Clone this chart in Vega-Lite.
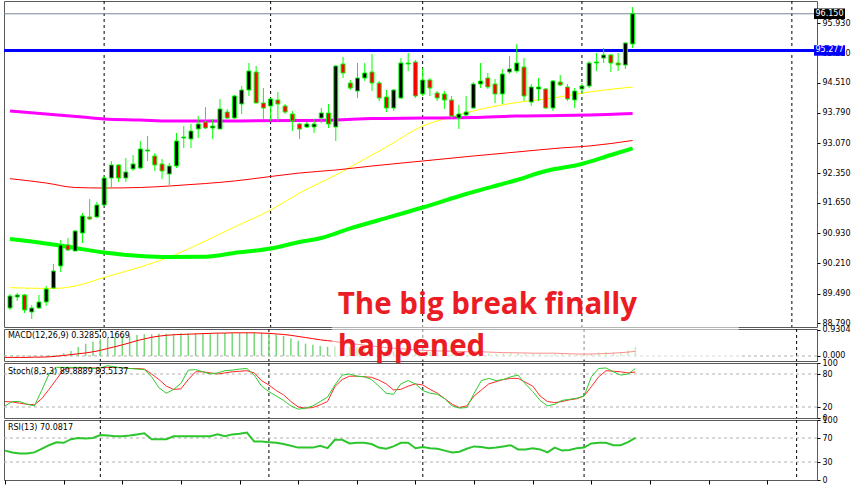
{
"$schema":"https://vega.github.io/schema/vega-lite/v6.json",
"background":"white",
"padding":{"left":0,"top":0,"right":0,"bottom":0},
"spacing":2,
"bounds":"flush",
"config":{"view":{"stroke":"#5a5a5a","strokeWidth":1},"axis":{"labelFont":"DejaVu Sans","labelFontSize":8,"labelColor":"#000000","tickColor":"#000000","tickSize":3,"labelPadding":2,"grid":false,"domain":false}},
"datasets":{
"seps":[{"i":13},{"i":36},{"i":57},{"i":79},{"i":108}],
"levels":[{"p":96.15,"t":"96.150"},{"p":95.277,"t":"95.277"}],
"note":[{"t":"The big break finally","v":1.503},{"t":"happened","v":0}],
"ma":[
{"ma":"m","i":0,"v":93.836},{"ma":"m","i":5,"v":93.765},{"ma":"m","i":10,"v":93.693},{"ma":"m","i":13,"v":93.646},{"ma":"m","i":18,"v":93.622},{"ma":"m","i":22,"v":93.598},{"ma":"m","i":30,"v":93.598},{"ma":"m","i":40,"v":93.61},{"ma":"m","i":45,"v":93.622},{"ma":"m","i":50,"v":93.657},{"ma":"m","i":57,"v":93.669},{"ma":"m","i":64,"v":93.681},{"ma":"m","i":70,"v":93.717},{"ma":"m","i":76,"v":93.729},{"ma":"m","i":80,"v":93.741},{"ma":"m","i":86,"v":93.777},
{"ma":"r","i":0,"v":92.225},{"ma":"r","i":5,"v":92.122},{"ma":"r","i":9,"v":92.015},{"ma":"r","i":13,"v":92.003},{"ma":"r","i":18,"v":92.015},{"ma":"r","i":22,"v":92.051},{"ma":"r","i":27,"v":92.11},{"ma":"r","i":31,"v":92.17},{"ma":"r","i":36,"v":92.277},{"ma":"r","i":40,"v":92.36},{"ma":"r","i":45,"v":92.432},{"ma":"r","i":50,"v":92.527},{"ma":"r","i":57,"v":92.646},{"ma":"r","i":64,"v":92.765},{"ma":"r","i":70,"v":92.86},{"ma":"r","i":76,"v":92.955},{"ma":"r","i":80,"v":93.003},{"ma":"r","i":86,"v":93.134},
{"ma":"y","i":0,"v":89.631},{"ma":"y","i":6,"v":89.612},{"ma":"y","i":9,"v":89.671},{"ma":"y","i":13,"v":89.874},{"ma":"y","i":18,"v":90.123},{"ma":"y","i":22,"v":90.361},{"ma":"y","i":27,"v":90.742},{"ma":"y","i":31,"v":91.075},{"ma":"y","i":36,"v":91.48},{"ma":"y","i":40,"v":91.884},{"ma":"y","i":45,"v":92.313},{"ma":"y","i":48,"v":92.598},{"ma":"y","i":52,"v":92.979},{"ma":"y","i":57,"v":93.479},{"ma":"y","i":61,"v":93.693},{"ma":"y","i":64,"v":93.836},{"ma":"y","i":70,"v":94.038},{"ma":"y","i":75,"v":94.145},{"ma":"y","i":80,"v":94.288},{"ma":"y","i":86,"v":94.407},
{"ma":"g","i":0,"v":90.79},{"ma":"g","i":4,"v":90.706},{"ma":"g","i":9,"v":90.575},{"ma":"g","i":13,"v":90.468},{"ma":"g","i":18,"v":90.385},{"ma":"g","i":22,"v":90.361},{"ma":"g","i":27,"v":90.368},{"ma":"g","i":31,"v":90.456},{"ma":"g","i":36,"v":90.563},{"ma":"g","i":40,"v":90.718},{"ma":"g","i":43,"v":90.813},{"ma":"g","i":47,"v":91.044},{"ma":"g","i":51,"v":91.242},{"ma":"g","i":57,"v":91.539},{"ma":"g","i":63,"v":91.861},{"ma":"g","i":70,"v":92.194},{"ma":"g","i":74,"v":92.408},{"ma":"g","i":79,"v":92.575},{"ma":"g","i":83,"v":92.789},{"ma":"g","i":86,"v":92.948}
],
"bars":[
{"i":0,"o":89.147,"h":89.481,"l":89.1,"c":89.433,"m":0.03,"s":-0.05,"k":22,"d":30,"r":49},
{"i":1,"o":89.409,"h":89.504,"l":89.314,"c":89.457,"m":0.03,"s":-0.05,"k":30,"d":29,"r":46},
{"i":2,"o":89.457,"h":89.481,"l":89.028,"c":89.1,"m":0.02,"s":-0.05,"k":30,"d":27,"r":44},
{"i":3,"o":89.052,"h":89.219,"l":88.886,"c":89.147,"m":0.02,"s":-0.05,"k":25,"d":25,"r":44},
{"i":4,"o":89.147,"h":89.457,"l":89.124,"c":89.29,"m":0.02,"s":-0.04,"k":22,"d":24,"r":46},
{"i":5,"o":89.29,"h":89.671,"l":89.195,"c":89.6,"m":0.03,"s":-0.04,"k":50,"d":35,"r":52},
{"i":6,"o":89.623,"h":90.195,"l":89.6,"c":90.028,"m":0.03,"s":-0.03,"k":80,"d":52,"r":58},
{"i":7,"o":90.147,"h":90.766,"l":90.004,"c":90.647,"m":0.04,"s":-0.01,"k":92,"d":70,"r":63},
{"i":8,"o":90.647,"h":90.813,"l":90.504,"c":90.528,"m":0.1,"s":0.02,"k":92,"d":88,"r":62},
{"i":9,"o":90.504,"h":91.004,"l":90.504,"c":90.98,"m":0.18,"s":0.05,"k":92,"d":91,"r":68},
{"i":10,"o":90.932,"h":91.408,"l":90.694,"c":91.337,"m":0.32,"s":0.08,"k":92,"d":91,"r":70},
{"i":11,"o":91.313,"h":91.742,"l":91.242,"c":91.266,"m":0.44,"s":0.11,"k":92,"d":91,"r":69},
{"i":12,"o":91.313,"h":91.67,"l":91.289,"c":91.599,"m":0.51,"s":0.15,"k":90,"d":91,"r":70},
{"i":13,"o":91.599,"h":92.289,"l":91.575,"c":92.241,"m":0.6,"s":0.2,"k":91,"d":91,"r":75},
{"i":14,"o":92.241,"h":92.646,"l":92.003,"c":92.551,"m":0.66,"s":0.27,"k":95,"d":92,"r":74},
{"i":15,"o":92.551,"h":92.575,"l":92.146,"c":92.241,"m":0.68,"s":0.33,"k":93,"d":92,"r":73},
{"i":16,"o":92.241,"h":92.717,"l":92.146,"c":92.384,"m":0.72,"s":0.4,"k":91,"d":91,"r":73},
{"i":17,"o":92.456,"h":92.789,"l":92.408,"c":92.575,"m":0.72,"s":0.47,"k":90,"d":90,"r":74},
{"i":18,"o":92.479,"h":93.122,"l":92.456,"c":92.932,"m":0.75,"s":0.55,"k":89,"d":90,"r":76},
{"i":19,"o":92.884,"h":93.241,"l":92.646,"c":92.908,"m":0.78,"s":0.61,"k":88,"d":89,"r":78},
{"i":20,"o":92.765,"h":92.836,"l":92.408,"c":92.551,"m":0.78,"s":0.67,"k":75,"d":80,"r":68},
{"i":21,"o":92.575,"h":92.694,"l":92.218,"c":92.408,"m":0.8,"s":0.71,"k":55,"d":70,"r":68},
{"i":22,"o":92.337,"h":92.598,"l":92.075,"c":92.527,"m":0.8,"s":0.74,"k":45,"d":58,"r":68},
{"i":23,"o":92.527,"h":93.312,"l":92.479,"c":93.122,"m":0.8,"s":0.76,"k":52,"d":52,"r":73},
{"i":24,"o":93.193,"h":93.479,"l":92.955,"c":93.217,"m":0.81,"s":0.77,"k":63,"d":53,"r":73},
{"i":25,"o":93.17,"h":93.527,"l":92.955,"c":93.36,"m":0.81,"s":0.78,"k":87,"d":70,"r":73},
{"i":26,"o":93.408,"h":93.717,"l":93.193,"c":93.527,"m":0.81,"s":0.79,"k":88,"d":84,"r":73},
{"i":27,"o":93.574,"h":93.931,"l":93.408,"c":93.431,"m":0.82,"s":0.8,"k":84,"d":84,"r":73},
{"i":28,"o":93.431,"h":93.646,"l":93.17,"c":93.479,"m":0.82,"s":0.81,"k":80,"d":82,"r":73},
{"i":29,"o":93.408,"h":94.122,"l":93.408,"c":93.884,"m":0.82,"s":0.82,"k":82,"d":80,"r":76},
{"i":30,"o":93.812,"h":93.884,"l":93.646,"c":93.669,"m":0.82,"s":0.82,"k":86,"d":82,"r":73},
{"i":31,"o":93.669,"h":94.217,"l":93.646,"c":94.193,"m":0.83,"s":0.83,"k":87,"d":84,"r":76},
{"i":32,"o":94.003,"h":94.431,"l":93.765,"c":94.336,"m":0.83,"s":0.83,"k":89,"d":85,"r":77},
{"i":33,"o":94.336,"h":94.978,"l":94.193,"c":94.788,"m":0.84,"s":0.83,"k":90,"d":86,"r":79},
{"i":34,"o":94.764,"h":94.907,"l":94.026,"c":94.026,"m":0.84,"s":0.83,"k":78,"d":82,"r":64},
{"i":35,"o":94.026,"h":94.383,"l":93.646,"c":93.907,"m":0.83,"s":0.82,"k":58,"d":68,"r":64},
{"i":36,"o":93.955,"h":94.145,"l":93.598,"c":94.122,"m":0.82,"s":0.81,"k":48,"d":60,"r":63},
{"i":37,"o":94.098,"h":94.288,"l":93.598,"c":94.003,"m":0.78,"s":0.79,"k":40,"d":50,"r":62},
{"i":38,"o":93.955,"h":94.003,"l":93.765,"c":93.812,"m":0.72,"s":0.77,"k":32,"d":42,"r":60},
{"i":39,"o":93.765,"h":93.836,"l":93.36,"c":93.598,"m":0.63,"s":0.74,"k":22,"d":30,"r":57},
{"i":40,"o":93.527,"h":93.55,"l":93.17,"c":93.408,"m":0.54,"s":0.7,"k":16,"d":20,"r":54},
{"i":41,"o":93.455,"h":93.574,"l":93.431,"c":93.527,"m":0.44,"s":0.66,"k":18,"d":18,"r":54},
{"i":42,"o":93.455,"h":93.646,"l":93.312,"c":93.527,"m":0.4,"s":0.62,"k":22,"d":19,"r":54},
{"i":43,"o":93.669,"h":93.907,"l":93.55,"c":93.788,"m":0.36,"s":0.58,"k":30,"d":24,"r":57},
{"i":44,"o":93.788,"h":94.003,"l":93.431,"c":93.527,"m":0.33,"s":0.55,"k":38,"d":30,"r":53},
{"i":45,"o":93.455,"h":94.931,"l":93.122,"c":94.907,"m":0.35,"s":0.52,"k":60,"d":57,"r":67},
{"i":46,"o":94.955,"h":95.121,"l":94.621,"c":94.74,"m":0.36,"s":0.48,"k":78,"d":70,"r":67},
{"i":47,"o":94.502,"h":94.574,"l":94.336,"c":94.383,"m":0.33,"s":0.45,"k":80,"d":76,"r":61},
{"i":48,"o":94.312,"h":94.978,"l":94.145,"c":94.621,"m":0.32,"s":0.42,"k":76,"d":76,"r":62},
{"i":49,"o":94.621,"h":94.978,"l":94.55,"c":94.74,"m":0.3,"s":0.39,"k":75,"d":75,"r":62},
{"i":50,"o":94.764,"h":95.193,"l":94.312,"c":94.502,"m":0.28,"s":0.36,"k":70,"d":74,"r":60},
{"i":51,"o":94.502,"h":94.55,"l":94.074,"c":94.145,"m":0.23,"s":0.33,"k":58,"d":69,"r":54},
{"i":52,"o":94.169,"h":94.336,"l":93.812,"c":93.907,"m":0.18,"s":0.3,"k":45,"d":62,"r":52},
{"i":53,"o":93.907,"h":94.36,"l":93.836,"c":94.336,"m":0.17,"s":0.28,"k":43,"d":51,"r":56},
{"i":54,"o":94.145,"h":95.097,"l":94.122,"c":94.978,"m":0.2,"s":0.26,"k":62,"d":52,"r":62},
{"i":55,"o":94.955,"h":95.216,"l":94.788,"c":94.978,"m":0.21,"s":0.24,"k":68,"d":58,"r":62},
{"i":56,"o":95.002,"h":95.05,"l":94.145,"c":94.193,"m":0.17,"s":0.22,"k":62,"d":62,"r":53},
{"i":57,"o":94.241,"h":94.859,"l":94.193,"c":94.574,"m":0.15,"s":0.2,"k":50,"d":60,"r":55},
{"i":58,"o":94.574,"h":94.621,"l":94.193,"c":94.383,"m":0.13,"s":0.19,"k":45,"d":52,"r":53},
{"i":59,"o":94.264,"h":94.312,"l":94.074,"c":94.145,"m":0.11,"s":0.18,"k":43,"d":45,"r":52},
{"i":60,"o":94.241,"h":94.312,"l":93.884,"c":94.098,"m":0.09,"s":0.18,"k":35,"d":35,"r":49},
{"i":61,"o":94.098,"h":94.193,"l":93.646,"c":93.717,"m":0.05,"s":0.17,"k":22,"d":25,"r":46},
{"i":62,"o":93.669,"h":93.979,"l":93.408,"c":93.765,"m":0.03,"s":0.16,"k":18,"d":19,"r":47},
{"i":63,"o":93.741,"h":94.193,"l":93.717,"c":93.812,"m":0.03,"s":0.15,"k":19,"d":22,"r":52},
{"i":64,"o":93.907,"h":94.526,"l":93.884,"c":94.479,"m":0.06,"s":0.15,"k":45,"d":40,"r":56},
{"i":65,"o":94.479,"h":94.978,"l":94.383,"c":94.55,"m":0.08,"s":0.15,"k":68,"d":51,"r":55},
{"i":66,"o":94.621,"h":94.74,"l":94.36,"c":94.407,"m":0.09,"s":0.14,"k":72,"d":62,"r":53},
{"i":67,"o":94.479,"h":94.598,"l":94.026,"c":94.241,"m":0.08,"s":0.13,"k":68,"d":66,"r":54},
{"i":68,"o":94.241,"h":94.836,"l":94.003,"c":94.717,"m":0.1,"s":0.12,"k":70,"d":70,"r":56},
{"i":69,"o":94.764,"h":95.145,"l":94.717,"c":94.836,"m":0.12,"s":0.12,"k":75,"d":72,"r":58},
{"i":70,"o":94.788,"h":95.431,"l":94.74,"c":94.978,"m":0.14,"s":0.11,"k":78,"d":72,"r":51},
{"i":71,"o":94.883,"h":95.097,"l":94.074,"c":94.193,"m":0.1,"s":0.11,"k":62,"d":65,"r":51},
{"i":72,"o":94.05,"h":94.479,"l":93.955,"c":94.407,"m":0.09,"s":0.1,"k":48,"d":58,"r":53},
{"i":73,"o":94.36,"h":94.621,"l":94.074,"c":94.407,"m":0.08,"s":0.1,"k":32,"d":40,"r":51},
{"i":74,"o":94.36,"h":94.383,"l":93.884,"c":93.907,"m":0.05,"s":0.1,"k":22,"d":30,"r":46},
{"i":75,"o":93.907,"h":94.574,"l":93.836,"c":94.55,"m":0.07,"s":0.1,"k":25,"d":28,"r":54},
{"i":76,"o":94.526,"h":94.693,"l":94.431,"c":94.455,"m":0.08,"s":0.09,"k":32,"d":30,"r":49},
{"i":77,"o":94.407,"h":94.479,"l":94.074,"c":94.122,"m":0.06,"s":0.08,"k":34,"d":33,"r":50},
{"i":78,"o":94.098,"h":94.383,"l":93.907,"c":94.312,"m":0.06,"s":0.07,"k":36,"d":35,"r":53},
{"i":79,"o":94.36,"h":94.502,"l":94.241,"c":94.431,"m":0.07,"s":0.07,"k":40,"d":40,"r":54},
{"i":80,"o":94.431,"h":95.026,"l":94.383,"c":94.978,"m":0.1,"s":0.07,"k":75,"d":57,"r":61},
{"i":81,"o":94.978,"h":95.216,"l":94.788,"c":95.002,"m":0.13,"s":0.08,"k":90,"d":75,"r":62},
{"i":82,"o":95.097,"h":95.335,"l":94.978,"c":95.169,"m":0.15,"s":0.09,"k":91,"d":86,"r":62},
{"i":83,"o":95.169,"h":95.193,"l":94.764,"c":94.978,"m":0.15,"s":0.1,"k":84,"d":85,"r":58},
{"i":84,"o":94.978,"h":95.216,"l":94.788,"c":94.931,"m":0.15,"s":0.12,"k":78,"d":84,"r":58},
{"i":85,"o":94.931,"h":95.478,"l":94.836,"c":95.454,"m":0.2,"s":0.14,"k":80,"d":82,"r":63},
{"i":86,"o":95.431,"h":96.311,"l":95.335,"c":96.15,"m":0.3285,"s":0.1669,"k":89.9,"d":83.5,"r":70.08}
]
},
"vconcat":[
{"width":813,"height":326,
"layer":[
{"data":{"name":"seps"},"mark":{"type":"rule","color":"#000000","strokeDash":[3,3],"strokeWidth":1},"encoding":{"x":{"field":"i","type":"quantitative","scale":{"domain":[-0.14,110.78],"nice":false,"zero":false},"axis":null}}},
{"data":{"values":[{}]},"mark":{"type":"rule","color":"#778899","strokeWidth":1},"encoding":{"y":{"datum":96.15,"type":"quantitative","scale":{"domain":[88.695,96.454],"nice":false,"zero":false},"axis":{"orient":"right","values":[95.93,95.21,94.51,93.79,93.07,92.35,91.65,90.93,90.21,89.49,88.79],"format":".3f","labelOverlap":false,"title":null}}}},
{"data":{"name":"ma"},"transform":[{"filter":"datum.ma == 'y'"}],"mark":{"type":"line","color":"#ffff00","strokeWidth":1,"interpolate":"monotone"},"encoding":{"x":{"field":"i","type":"quantitative","scale":{"domain":[-0.14,110.78],"nice":false,"zero":false},"axis":null},"y":{"field":"v","type":"quantitative","scale":{"domain":[88.695,96.454],"nice":false,"zero":false},"axis":{"orient":"right","values":[95.93,95.21,94.51,93.79,93.07,92.35,91.65,90.93,90.21,89.49,88.79],"format":".3f","labelOverlap":false,"title":null}}}},
{"data":{"name":"ma"},"transform":[{"filter":"datum.ma == 'r'"}],"mark":{"type":"line","color":"#ff0000","strokeWidth":1,"interpolate":"monotone"},"encoding":{"x":{"field":"i","type":"quantitative","scale":{"domain":[-0.14,110.78],"nice":false,"zero":false},"axis":null},"y":{"field":"v","type":"quantitative","scale":{"domain":[88.695,96.454],"nice":false,"zero":false},"axis":{"orient":"right","values":[95.93,95.21,94.51,93.79,93.07,92.35,91.65,90.93,90.21,89.49,88.79],"format":".3f","labelOverlap":false,"title":null}}}},
{"data":{"name":"ma"},"transform":[{"filter":"datum.ma == 'm'"}],"mark":{"type":"line","color":"#ff00ff","strokeWidth":3,"interpolate":"monotone"},"encoding":{"x":{"field":"i","type":"quantitative","scale":{"domain":[-0.14,110.78],"nice":false,"zero":false},"axis":null},"y":{"field":"v","type":"quantitative","scale":{"domain":[88.695,96.454],"nice":false,"zero":false},"axis":{"orient":"right","values":[95.93,95.21,94.51,93.79,93.07,92.35,91.65,90.93,90.21,89.49,88.79],"format":".3f","labelOverlap":false,"title":null}}}},
{"data":{"name":"ma"},"transform":[{"filter":"datum.ma == 'g'"}],"mark":{"type":"line","color":"#00ff00","strokeWidth":4,"interpolate":"monotone"},"encoding":{"x":{"field":"i","type":"quantitative","scale":{"domain":[-0.14,110.78],"nice":false,"zero":false},"axis":null},"y":{"field":"v","type":"quantitative","scale":{"domain":[88.695,96.454],"nice":false,"zero":false},"axis":{"orient":"right","values":[95.93,95.21,94.51,93.79,93.07,92.35,91.65,90.93,90.21,89.49,88.79],"format":".3f","labelOverlap":false,"title":null}}}},
{"data":{"values":[{}]},"mark":{"type":"rule","color":"#0000ff","strokeWidth":3},"encoding":{"y":{"datum":95.277,"type":"quantitative","scale":{"domain":[88.695,96.454],"nice":false,"zero":false},"axis":{"orient":"right","values":[95.93,95.21,94.51,93.79,93.07,92.35,91.65,90.93,90.21,89.49,88.79],"format":".3f","labelOverlap":false,"title":null}}}},
{"data":{"name":"bars"},"mark":{"type":"rule","color":"#00ff00","strokeWidth":1},"encoding":{"x":{"field":"i","type":"quantitative","scale":{"domain":[-0.14,110.78],"nice":false,"zero":false},"axis":null},"y":{"field":"l","type":"quantitative","scale":{"domain":[88.695,96.454],"nice":false,"zero":false},"axis":{"orient":"right","values":[95.93,95.21,94.51,93.79,93.07,92.35,91.65,90.93,90.21,89.49,88.79],"format":".3f","labelOverlap":false,"title":null}},"y2":{"field":"h"}}},
{"data":{"name":"bars"},"mark":{"type":"bar","width":4,"stroke":"#00ff00","strokeWidth":1},"encoding":{"x":{"field":"i","type":"quantitative","scale":{"domain":[-0.14,110.78],"nice":false,"zero":false},"axis":null},"y":{"field":"o","type":"quantitative","scale":{"domain":[88.695,96.454],"nice":false,"zero":false},"axis":{"orient":"right","values":[95.93,95.21,94.51,93.79,93.07,92.35,91.65,90.93,90.21,89.49,88.79],"format":".3f","labelOverlap":false,"title":null}},"y2":{"field":"c"},"fill":{"condition":{"test":"datum.c >= datum.o","value":"#000000"},"value":"#ff0000"}}},
{"data":{"name":"levels"},"mark":{"type":"point","shape":"M-1,-0.34H1V0.34H-1Z","size":961,"filled":true,"opacity":1,"strokeWidth":0},"encoding":{"x":{"datum":113.2,"type":"quantitative","scale":{"domain":[-0.14,110.78],"nice":false,"zero":false},"axis":null},"y":{"field":"p","type":"quantitative","scale":{"domain":[88.695,96.454],"nice":false,"zero":false},"axis":{"orient":"right","values":[95.93,95.21,94.51,93.79,93.07,92.35,91.65,90.93,90.21,89.49,88.79],"format":".3f","labelOverlap":false,"title":null}},"fill":{"condition":{"test":"datum.p > 96","value":"#000000"},"value":"#0000ff"}}},
{"data":{"name":"levels"},"mark":{"type":"text","color":"#ffffff","font":"DejaVu Sans","fontSize":8,"align":"center","baseline":"middle"},"encoding":{"x":{"datum":113.2,"type":"quantitative","scale":{"domain":[-0.14,110.78],"nice":false,"zero":false},"axis":null},"y":{"field":"p","type":"quantitative","scale":{"domain":[88.695,96.454],"nice":false,"zero":false},"axis":{"orient":"right","values":[95.93,95.21,94.51,93.79,93.07,92.35,91.65,90.93,90.21,89.49,88.79],"format":".3f","labelOverlap":false,"title":null}},"text":{"field":"t"}}}
]},
{"width":813,"height":32,
"layer":[
{"data":{"name":"seps"},"mark":{"type":"rule","color":"#000000","strokeDash":[3,3],"strokeWidth":1},"encoding":{"x":{"field":"i","type":"quantitative","scale":{"domain":[-0.14,110.78],"nice":false,"zero":false},"axis":null}}},
{"data":{"values":[{}]},"mark":{"type":"rule","color":"#b0b0b0","strokeDash":[3,3],"strokeWidth":1},"encoding":{"y":{"datum":0,"type":"quantitative","scale":{"domain":[-0.179,0.966],"nice":false,"zero":false},"axis":{"orient":"right","values":[0.9304,0],"labelExpr":"datum.value == 0 ? '0.000' : format(datum.value, '.4f')","labelOverlap":false,"title":null}}}},
{"data":{"name":"bars"},"mark":{"type":"rule","color":"#78d878","strokeWidth":1.5},"encoding":{"x":{"field":"i","type":"quantitative","scale":{"domain":[-0.14,110.78],"nice":false,"zero":false},"axis":null},"y":{"field":"m","type":"quantitative","scale":{"domain":[-0.179,0.966],"nice":false,"zero":false},"axis":{"orient":"right","values":[0.9304,0],"labelExpr":"datum.value == 0 ? '0.000' : format(datum.value, '.4f')","labelOverlap":false,"title":null}},"y2":{"datum":0}}},
{"data":{"name":"bars"},"mark":{"type":"line","color":"#ff0000","strokeWidth":1},"encoding":{"x":{"field":"i","type":"quantitative","scale":{"domain":[-0.14,110.78],"nice":false,"zero":false},"axis":null},"y":{"field":"s","type":"quantitative","scale":{"domain":[-0.179,0.966],"nice":false,"zero":false},"axis":{"orient":"right","values":[0.9304,0],"labelExpr":"datum.value == 0 ? '0.000' : format(datum.value, '.4f')","labelOverlap":false,"title":null}}}},
{"data":{"values":[{}]},"mark":{"type":"rect","color":"#ffffff","opacity":0.55},"encoding":{"x":{"datum":44.6,"type":"quantitative","scale":{"domain":[-0.14,110.78],"nice":false,"zero":false},"axis":null},"x2":{"datum":100.1},"y":{"datum":1.12,"type":"quantitative","scale":{"domain":[-0.179,0.966],"nice":false,"zero":false},"axis":{"orient":"right","values":[0.9304,0],"labelExpr":"datum.value == 0 ? '0.000' : format(datum.value, '.4f')","labelOverlap":false,"title":null}},"y2":{"datum":-0.14}}},
{"data":{"values":[{"t":"MACD(12,26,9) 0.3285 0.1669"}]},"mark":{"type":"text","color":"#000000","font":"DejaVu Sans","fontSize":8,"align":"left","baseline":"middle"},"encoding":{"x":{"datum":0.4,"type":"quantitative","scale":{"domain":[-0.14,110.78],"nice":false,"zero":false},"axis":null},"y":{"datum":0.716,"type":"quantitative","scale":{"domain":[-0.179,0.966],"nice":false,"zero":false},"axis":{"orient":"right","values":[0.9304,0],"labelExpr":"datum.value == 0 ? '0.000' : format(datum.value, '.4f')","labelOverlap":false,"title":null}},"text":{"field":"t"}}},
{"data":{"name":"note"},"mark":{"type":"text","color":"#ec1c24","font":"Open Sans","fontWeight":"bold","fontSize":29.5,"align":"left","baseline":"alphabetic"},"encoding":{"x":{"datum":45.4,"type":"quantitative","scale":{"domain":[-0.14,110.78],"nice":false,"zero":false},"axis":null},"y":{"field":"v","type":"quantitative","scale":{"domain":[-0.179,0.966],"nice":false,"zero":false},"axis":{"orient":"right","values":[0.9304,0],"labelExpr":"datum.value == 0 ? '0.000' : format(datum.value, '.4f')","labelOverlap":false,"title":null}},"text":{"field":"t"}}}
]},
{"width":813,"height":55,
"layer":[
{"data":{"name":"seps"},"mark":{"type":"rule","color":"#000000","strokeDash":[3,3],"strokeWidth":1},"encoding":{"x":{"field":"i","type":"quantitative","scale":{"domain":[-0.14,110.78],"nice":false,"zero":false},"axis":null}}},
{"data":{"values":[{"v":80},{"v":20}]},"mark":{"type":"rule","color":"#b0b0b0","strokeDash":[3,3],"strokeWidth":1},"encoding":{"y":{"field":"v","type":"quantitative","scale":{"domain":[0,100],"nice":false,"zero":false},"axis":{"orient":"right","values":[100,80,20,0],"labelOverlap":false,"title":null}}}},
{"data":{"name":"bars"},"mark":{"type":"line","color":"#ff2a2a","strokeWidth":1},"encoding":{"x":{"field":"i","type":"quantitative","scale":{"domain":[-0.14,110.78],"nice":false,"zero":false},"axis":null},"y":{"field":"d","type":"quantitative","scale":{"domain":[0,100],"nice":false,"zero":false},"axis":{"orient":"right","values":[100,80,20,0],"labelOverlap":false,"title":null}}}},
{"data":{"name":"bars"},"mark":{"type":"line","color":"#2ecc2e","strokeWidth":1},"encoding":{"x":{"field":"i","type":"quantitative","scale":{"domain":[-0.14,110.78],"nice":false,"zero":false},"axis":null},"y":{"field":"k","type":"quantitative","scale":{"domain":[0,100],"nice":false,"zero":false},"axis":{"orient":"right","values":[100,80,20,0],"labelOverlap":false,"title":null}}}},
{"data":{"values":[{"t":"Stoch(8,3,3) 89.8889 83.5137"}]},"mark":{"type":"text","color":"#000000","font":"DejaVu Sans","fontSize":8,"align":"left","baseline":"middle"},"encoding":{"x":{"datum":0.4,"type":"quantitative","scale":{"domain":[-0.14,110.78],"nice":false,"zero":false},"axis":null},"y":{"datum":83.6,"type":"quantitative","scale":{"domain":[0,100],"nice":false,"zero":false},"axis":{"orient":"right","values":[100,80,20,0],"labelOverlap":false,"title":null}},"text":{"field":"t"}}}
]},
{"width":813,"height":60,
"layer":[
{"data":{"name":"seps"},"mark":{"type":"rule","color":"#000000","strokeDash":[3,3],"strokeWidth":1},"encoding":{"x":{"field":"i","type":"quantitative","scale":{"domain":[-0.14,110.78],"nice":false,"zero":false},"axis":{"orient":"bottom","values":[0,8,16,24,32,40,48,56,64,72,80,88,96,104],"labels":false,"ticks":true,"tickSize":4,"domain":false,"grid":false,"title":null}}}},
{"data":{"values":[{"v":70},{"v":30}]},"mark":{"type":"rule","color":"#b0b0b0","strokeDash":[3,3],"strokeWidth":1},"encoding":{"y":{"field":"v","type":"quantitative","scale":{"domain":[0,100],"nice":false,"zero":false},"axis":{"orient":"right","values":[100,70,30,0],"labelOverlap":false,"title":null}}}},
{"data":{"name":"bars"},"mark":{"type":"line","color":"#2dc52d","strokeWidth":2},"encoding":{"x":{"field":"i","type":"quantitative","scale":{"domain":[-0.14,110.78],"nice":false,"zero":false},"axis":{"orient":"bottom","values":[0,8,16,24,32,40,48,56,64,72,80,88,96,104],"labels":false,"ticks":true,"tickSize":4,"domain":false,"grid":false,"title":null}},"y":{"field":"r","type":"quantitative","scale":{"domain":[0,100],"nice":false,"zero":false},"axis":{"orient":"right","values":[100,70,30,0],"labelOverlap":false,"title":null}}}},
{"data":{"values":[{"t":"RSI(13) 70.0817"}]},"mark":{"type":"text","color":"#000000","font":"DejaVu Sans","fontSize":8,"align":"left","baseline":"middle"},"encoding":{"x":{"datum":0.4,"type":"quantitative","scale":{"domain":[-0.14,110.78],"nice":false,"zero":false},"axis":{"orient":"bottom","values":[0,8,16,24,32,40,48,56,64,72,80,88,96,104],"labels":false,"ticks":true,"tickSize":4,"domain":false,"grid":false,"title":null}},"y":{"datum":86.7,"type":"quantitative","scale":{"domain":[0,100],"nice":false,"zero":false},"axis":{"orient":"right","values":[100,70,30,0],"labelOverlap":false,"title":null}},"text":{"field":"t"}}}
]}
]
}
